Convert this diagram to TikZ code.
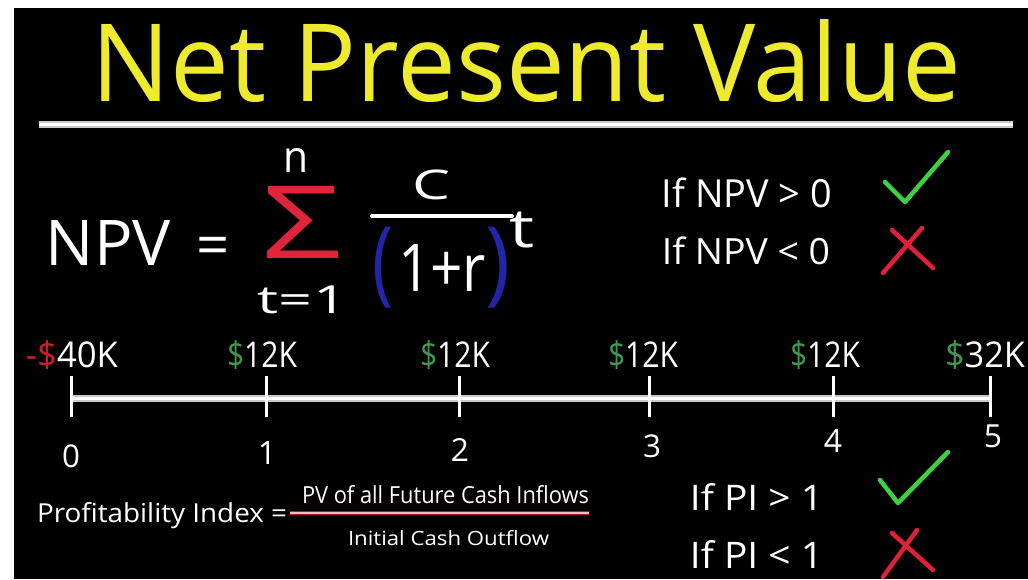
\documentclass[tikz,border=0pt]{standalone}
\usepackage{fontspec}
\setmainfont{Open Sans}
\usepackage{graphicx}
\definecolor{ttlyellow}{HTML}{EEEA2E}
\definecolor{okgreen}{HTML}{3DD23D}
\definecolor{badred}{HTML}{E0203A}
\definecolor{sigred}{HTML}{E0253A}
\definecolor{parblue}{HTML}{2424A8}
\definecolor{dollargreen}{HTML}{3C9A50}
\definecolor{dollarred}{HTML}{C8202A}
\definecolor{rulegray}{HTML}{C8C8C8}
\newcommand{\fitto}[3]{\resizebox*{#1}{#2}{#3}}
\tikzset{
  txt/.style={inner sep=0pt, outer sep=0pt, text=white, anchor=center},
  basetxt/.style={inner sep=0pt, outer sep=0pt, text=white, anchor=base west},
  mark ok/.style={draw=okgreen, line width=4.5pt, line cap=round, line join=round},
  mark bad/.style={draw=badred, line width=4.5pt, line cap=round},
  tickline/.style={draw=white, line width=3pt},
}
\begin{document}
\begin{tikzpicture}[x=1pt,y=-1pt]
\useasboundingbox (0,0) rectangle (1028,579);
\fill[white] (0,0) rectangle (1028,579);
\fill[black] (14,8) rectangle (1028,579);

% title
\node[txt, text=ttlyellow] (title) at (526.5,61.5) {\fitto{869pt}{83pt}{Net Present Value}};
\draw[rulegray, line width=7pt] (39,124) -- (1013,124);
\draw[white, line width=3pt] (39,124) -- (1013,124);

% NPV formula
\node[txt] (npv) at (108.5,242.5) {\fitto{125pt}{45pt}{NPV}};
\node[inner sep=0pt, text=white, anchor=base, font=\fontsize{58}{58}\selectfont] (eq) at (213.5,265) {=};
\node[txt, text=sigred] (sigma) at (302.5,222) {\fitto{79pt}{72pt}{Σ}};
\node[txt] (upper) at (295.5,160) {\fitto{25pt}{24pt}{n}};
\node[txt] (lower) at (302.5,300) {\fitto{89pt}{28pt}{t=1}};
\node[txt] (cnum) at (431,185) {\fitto{38pt}{30pt}{C}};
\coordinate (barL) at (372,216);
\coordinate (barR) at (512,216);
\draw[white, line width=4pt, line cap=round] (barL) -- (barR);
\node[txt, text=parblue] (lpar) at (382.5,267.5) {\fitto{21pt}{81pt}{(}};
\node[txt, text=parblue] (rpar) at (497.5,267.5) {\fitto{25pt}{81pt}{)}};
\node[txt] (onepr) at (442,268) {\fitto{88pt}{47pt}{1+r}};
\node[txt] (expt) at (522,230) {\fitto{25pt}{36pt}{t}};

% NPV decision
\node[txt] (npvpos) at (747,193) {\fitto{170pt}{30pt}{If NPV > 0}};
\node[txt] (npvneg) at (746,251) {\fitto{168pt}{28pt}{If NPV < 0}};
\draw[mark ok] (885,182) -- (905,202) -- (948,152);
\draw[mark bad] (892,230) -- (933,268);
\draw[mark bad] (922,228) -- (883,273);

% timeline
\coordinate (t0) at (71,398);
\coordinate (t1) at (266,398);
\coordinate (t2) at (459,398);
\coordinate (t3) at (649,398);
\coordinate (t4) at (833,398);
\coordinate (t5) at (990,398);
\draw[rulegray, line width=7pt] (t0) -- (t5);
\draw[white, line width=3pt] (t0) -- (t5);
\foreach \p in {t0,t1,t2,t3,t4,t5} {
  \draw[tickline] ([yshift=-19pt]\p) -- ([yshift=22pt]\p);
}
\node[txt] (c0) at (72,355) {\fitto{92pt}{29pt}{\textcolor{dollarred}{-\$}40K}};
\node[txt] (c1) at (262,355) {\fitto{70pt}{29pt}{\textcolor{dollargreen}{\$}12K}};
\node[txt] (c2) at (455,355) {\fitto{70pt}{29pt}{\textcolor{dollargreen}{\$}12K}};
\node[txt] (c3) at (643,355) {\fitto{70pt}{29pt}{\textcolor{dollargreen}{\$}12K}};
\node[txt] (c4) at (825,355) {\fitto{70pt}{29pt}{\textcolor{dollargreen}{\$}12K}};
\node[txt] (c5) at (985,355) {\fitto{80pt}{29pt}{\textcolor{dollargreen}{\$}32K}};
\node[txt] (y0) at (71,456) {\fitto{!}{23pt}{0}};
\node[txt] (y1) at (267,453) {\fitto{!}{23pt}{1}};
\node[txt] (y2) at (460,450) {\fitto{!}{23pt}{2}};
\node[txt] (y3) at (652,446) {\fitto{!}{23pt}{3}};
\node[txt] (y4) at (833,441) {\fitto{!}{23pt}{4}};
\node[txt] (y5) at (993,436) {\fitto{!}{23pt}{5}};

% profitability index
\node[basetxt] (pilabel) at (37,522) {\resizebox{250pt}{20pt}{Profitability Index =}};
\node[basetxt] (pinum) at (302,503) {\resizebox{287pt}{18pt}{PV of all Future Cash Inflows}};
\coordinate (pibarL) at (290,513);
\coordinate (pibarR) at (589,513);
\draw[badred!80!black, line width=4pt] (pibarL) -- (pibarR);
\draw[white!70!badred, line width=1.5pt] (pibarL) -- (pibarR);
\node[basetxt] (piden) at (348,545) {\resizebox{201pt}{15pt}{Initial Cash Outflow}};

% PI decision
\node[txt] (pipos) at (756.5,496.5) {\fitto{133pt}{27pt}{If PI > 1}};
\node[txt] (pineg) at (756.5,554) {\fitto{133pt}{28pt}{If PI < 1}};
\draw[mark ok] (880,480) -- (898,503) -- (948,452);
\draw[mark bad] (892,533) -- (933,570);
\draw[mark bad] (917,530) -- (883,577);
\end{tikzpicture}
\end{document}
